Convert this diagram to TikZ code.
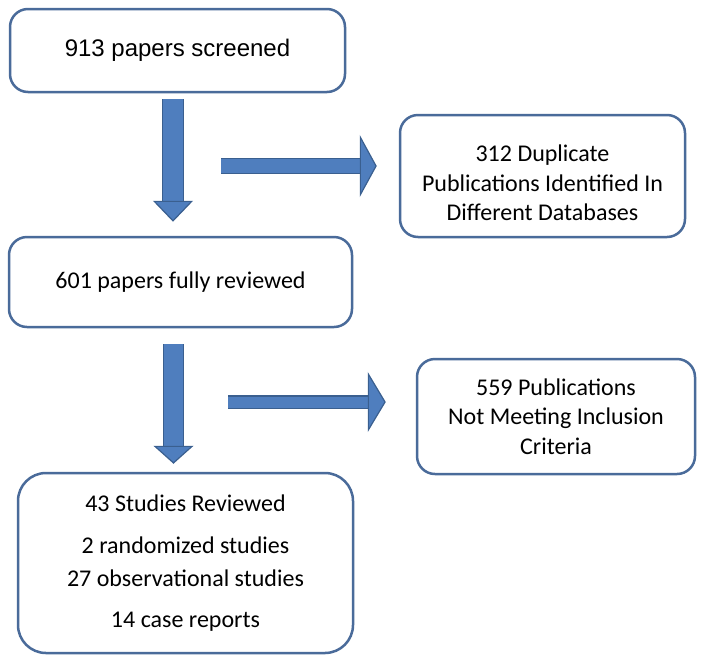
\documentclass[tikz,border=0pt]{standalone}
\usepackage{fontspec}
\setmainfont{Carlito}
\newfontfamily\arialfont{Liberation Sans}
\usepackage{tikz}
\usetikzlibrary{arrows.meta}
\usetikzlibrary{positioning}
\definecolor{boxline}{HTML}{4A6B9A}
\definecolor{arrowfill}{HTML}{4F7EBE}
\definecolor{arrowline}{HTML}{3A5F8F}
\tikzstyle{stage}= [draw=boxline, line width=2.5pt, rounded corners=18pt, fill=white, align=center, inner sep=0pt, font=\fontsize{24}{29.5}\selectfont]
\tikzstyle{blockarrow}= [draw=arrowfill]

\begin{document}
\begin{tikzpicture}[
    x=1pt, y=-1pt,
    flow/.style n args={4}{
      blockarrow, line width=#1, shorten >=#4,
      -{Triangle[width=#2,length=#3,line width=1.2pt,color=arrowline,fill=arrowfill]},
      preaction={draw=arrowline, arrows=-, line width=#1+2.4pt, shorten >=#4+#3-1pt}
    }
  ]
  \useasboundingbox (0,0) rectangle (704,670);

  \node[stage, minimum width=335pt, minimum height=83pt, font=\arialfont\fontsize{24}{29}\selectfont] (b1) at (177.5,50.5) {913 papers screened};
  \node[stage, minimum width=285pt, minimum height=122pt] (b2) at (542.5,176) {\rule{0pt}{31pt}312 Duplicate\\Publications Identified In\\Different Databases};
  \node[stage, minimum width=343pt, minimum height=90pt] (b3) at (180.5,282) {601 papers fully reviewed};
  \node[stage, minimum width=278pt, minimum height=115pt] (b4) at (556,416.5) {559 Publications\\Not Meeting Inclusion\\Criteria};
  \node[stage, minimum width=335pt, minimum height=180pt, rounded corners=28pt] (b5) at (185.5,563) {43 Studies Reviewed\\[12pt]2 randomized studies\\[4pt]27 observational studies\\[11pt]14 case reports};

  \coordinate (a1) at (221,166);
  \coordinate (a2) at (228,402);

  \draw[flow={20pt}{40pt}{21pt}{14pt}, shorten <=6pt] ([xshift=-4.5pt]b1.south) -- ([xshift=-7.5pt]b3.north);
  \draw[flow={14pt}{62pt}{17pt}{22pt}] (a1) -- ([yshift=10pt]b2.west);
  \draw[flow={19pt}{40pt}{18pt}{8pt}, shorten <=16pt] ([xshift=-7pt]b3.south) -- ([xshift=-12pt]b5.north);
  \draw[flow={11pt}{60pt}{18pt}{30pt}] (a2) -- ([yshift=14.5pt]b4.west);

\end{tikzpicture}
\end{document}
